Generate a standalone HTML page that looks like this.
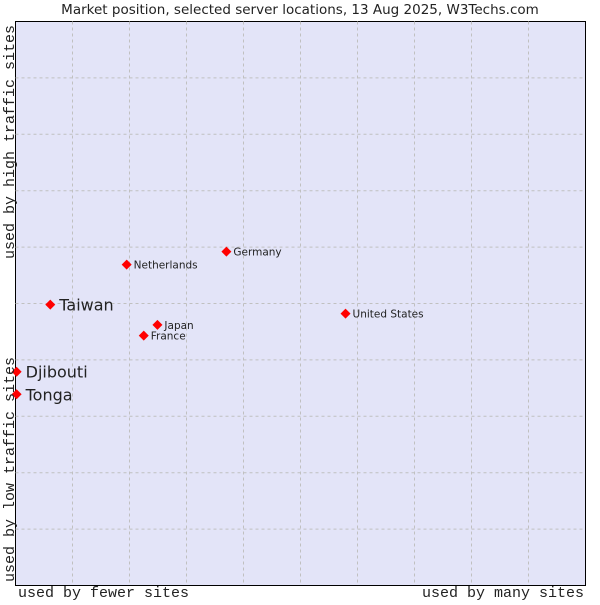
<!DOCTYPE html>
<html><head><meta charset="utf-8"><style>
body{margin:0;background:#fff;width:600px;height:600px;overflow:hidden}
svg text{font-family:"DejaVu Sans","Liberation Sans",sans-serif;fill:#222}
.mono{font-family:"Liberation Mono","DejaVu Sans Mono",monospace!important}
</style></head><body>
<svg width="600" height="600">
<text x="300" y="14" text-anchor="middle" font-size="13.5">Market position, selected server locations, 13 Aug 2025, W3Techs.com</text>
<rect x="15.5" y="21.5" width="570" height="564" fill="#e3e4f8" stroke="#000"/>
<g id="grid"></g>
<g id="pts"></g>
<text x="18" y="597" font-size="15" class="mono">used by fewer sites</text>
<text x="584" y="597" font-size="15" text-anchor="end" class="mono">used by many sites</text>
<text transform="translate(14,582) rotate(-90)" font-size="15" class="mono">used by low traffic sites</text>
<text transform="translate(14,259) rotate(-90)" font-size="15" class="mono">used by high traffic sites</text>
</svg>
<script>
const names=["Taiwan","Djibouti","Tonga","Netherlands","Germany","Japan","France","United States"];
const xs=[0.61,0.02,0.02,1.95,3.7,2.49,2.25,5.79];
const ys=[4.98,3.79,3.39,5.69,5.92,4.62,4.43,4.82];
const big=[true,true,true,false,false,false,false,false];
const L=15.5,T=21.5,W=570,H=564;
const sx=v=>L+v*W/10, sy=v=>T+H-v*H/10;
const ns="http://www.w3.org/2000/svg";
const g=document.getElementById('grid'),p=document.getElementById('pts');
for(let i=1;i<10;i++){
 let a=document.createElementNS(ns,'line');
 
 
 a.setAttribute('x1',sx(i));a.setAttribute('x2',sx(i));a.setAttribute('y1',T);a.setAttribute('y2',T+H);
 a.setAttribute('stroke','#c0c0c0');a.setAttribute('stroke-dasharray','3,3');g.appendChild(a);
 let b=document.createElementNS(ns,'line');
 
 
 b.setAttribute('y1',sy(i));b.setAttribute('y2',sy(i));b.setAttribute('x1',L);b.setAttribute('x2',L+W);
 b.setAttribute('stroke','#c0c0c0');b.setAttribute('stroke-dasharray','3,3');g.appendChild(b);
}
names.forEach((n,i)=>{
 const x=sx(xs[i]),y=sy(ys[i]);
 let d=document.createElementNS(ns,'path');
 
 
 d.setAttribute('d',`M${x-5},${y}L${x},${y-5}L${x+5},${y}L${x},${y+5}Z`);
 d.setAttribute('fill','#f00');p.appendChild(d);
 let t=document.createElementNS(ns,'text');
 
 
 t.setAttribute('x',x+(big[i]?9:7));t.setAttribute('y',y+(big[i]?6:4));
 t.setAttribute('font-size',big[i]?16:10.5);t.textContent=n;p.appendChild(t);
});
</script>
</body></html>
